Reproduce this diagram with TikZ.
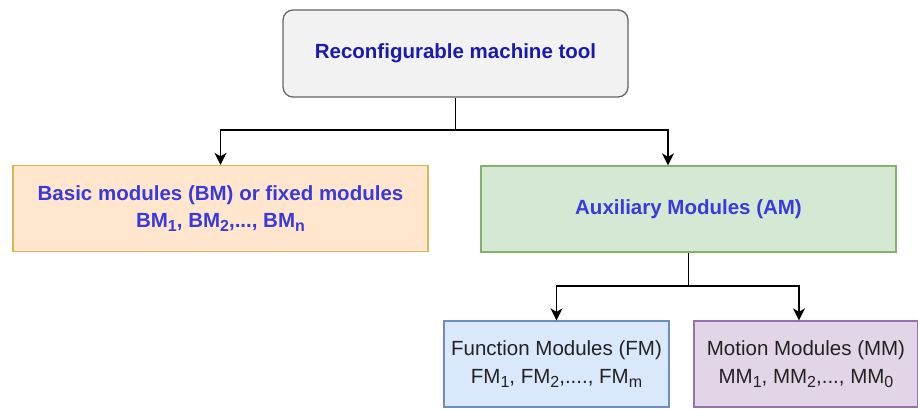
\documentclass[tikz,border=0pt]{standalone}
\usepackage{fontspec}
\setmainfont{Liberation Sans}
\usetikzlibrary{arrows.meta,calc}
\definecolor{topfill}{HTML}{F2F2F2}
\definecolor{topdraw}{HTML}{666666}
\definecolor{bmfill}{HTML}{FFE6CC}
\definecolor{bmdraw}{HTML}{D6B656}
\definecolor{amfill}{HTML}{D5E8D4}
\definecolor{amdraw}{HTML}{82B366}
\definecolor{fmfill}{HTML}{DAE8FC}
\definecolor{fmdraw}{HTML}{6C8EBF}
\definecolor{mmfill}{HTML}{E1D5E7}
\definecolor{mmdraw}{HTML}{9673A6}
\definecolor{darkblue}{HTML}{1A1AB0}
\definecolor{midblue}{HTML}{3A3ADA}
\definecolor{textgray}{HTML}{222222}
\newcommand\mysub[1]{\raisebox{-0.35ex}{\fontsize{16}{16}\selectfont #1}}
\tikzset{
  boxstyle/.style={draw, line width=1.3pt, minimum height=86pt, align=center, inner sep=0pt},
  bluetext/.style={font=\fontsize{20.5}{27.5}\selectfont\bfseries},
  graytext/.style={font=\fontsize{20.5}{28}\selectfont, text=textgray},
  arr/.style={line width=1.8pt, -{Stealth[length=12pt,width=12pt,inset=3.5pt]}},
  plain/.style={line width=1.8pt}
}
\begin{document}
\begin{tikzpicture}[x=1pt,y=-1pt]
\useasboundingbox (0,0) rectangle (918,409);
\node[boxstyle, bluetext, text=darkblue, fill=topfill, draw=topdraw, rounded corners=10pt, minimum width=345pt, minimum height=87pt] (top) at (455.5,53.5) {Reconfigurable machine tool};
\node[boxstyle, bluetext, text=midblue, fill=bmfill, draw=bmdraw, minimum width=415pt] (BM) at (220.5,208.5) {Basic modules (BM) or fixed modules\\BM\mysub{1}, BM\mysub{2},..., BM\mysub{n}};
\node[boxstyle, bluetext, text=midblue, fill=amfill, draw=amdraw, minimum width=415pt] (AM) at (688.5,209) {Auxiliary Modules (AM)};
\node[boxstyle, graytext, fill=fmfill, draw=fmdraw, minimum width=225pt] (FM) at (556.5,364) {Function Modules (FM)\\FM\mysub{1}, FM\mysub{2},...., FM\mysub{m}};
\node[boxstyle, graytext, fill=mmfill, draw=mmdraw, minimum width=224pt] (MM) at (806,364) {Motion Modules (MM)\\MM\mysub{1}, MM\mysub{2},..., MM\mysub{0}};
\coordinate (j1) at (455.5,130);
\coordinate (j2) at (688.5,286);
\draw[plain] (top.south) -- (j1);
\draw[arr] (j1) -| (BM.north);
\draw[arr] (j1) -| ([xshift=-20.5pt]AM.north);
\draw[plain] (AM.south) -- (j2);
\draw[arr] (j2) -| (FM.north);
\draw[arr] (j2) -| ([xshift=-7pt]MM.north);
\end{tikzpicture}
\end{document}
